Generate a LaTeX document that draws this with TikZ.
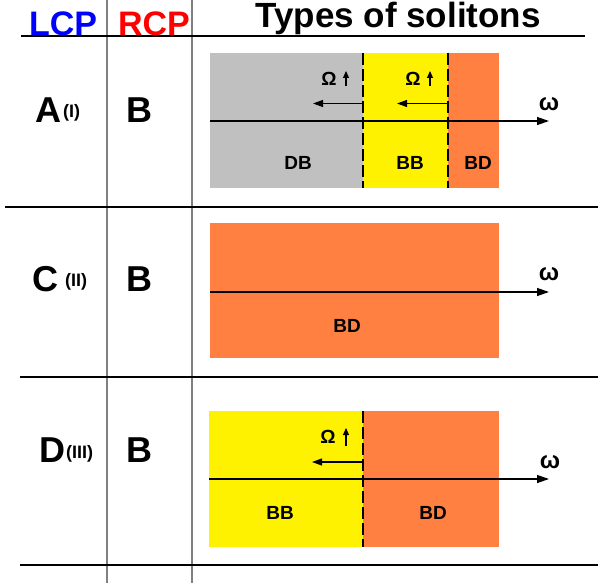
\documentclass[tikz,border=0pt]{standalone}
\usepackage{fontspec}
\setmainfont{Liberation Sans}
\usetikzlibrary{arrows.meta}
\definecolor{sgray}{RGB}{192,192,192}
\definecolor{syel}{RGB}{255,242,0}
\definecolor{sor}{RGB}{255,128,64}
\definecolor{lcpblue}{RGB}{0,0,255}
\definecolor{rcpred}{RGB}{255,0,0}
\begin{document}
\begin{tikzpicture}[x=1pt,y=-1pt,
  hdr/.style={font=\fontsize{34}{34}\selectfont\bfseries, anchor=base, inner sep=0pt},
  titletxt/.style={font=\fontsize{35}{35}\selectfont\bfseries, anchor=base, inner sep=0pt},
  rowlbl/.style={font=\fontsize{36}{36}\selectfont\bfseries, anchor=base, inner sep=0pt},
  romanlbl/.style={font=\fontsize{18}{18}\selectfont\bfseries, anchor=base west, inner sep=0pt},
  regionlbl/.style={font=\fontsize{19}{19}\selectfont\bfseries, anchor=base, inner sep=0pt},
  omegalbl/.style={font=\fontsize{19}{19}\selectfont\bfseries, anchor=base, inner sep=0pt},
  freqlbl/.style={font=\fontsize{24}{24}\selectfont\bfseries, anchor=center, inner sep=0pt},
  seplin/.style={line width=2.4pt},
  colline/.style={draw=gray, line width=1.2pt},
  axisarrow/.style={line width=1.3pt, -{Triangle[length=12pt,width=8pt]}},
  leftarrow/.style={line width=1.1pt, -{Triangle[length=10pt,width=7pt]}},
  uparrow/.style={line width=1.1pt, -{Triangle[length=7pt,width=6pt]}},
  boundary/.style={line width=2pt, dash pattern=on 12pt off 4pt}
]
\useasboundingbox (0,0) rectangle (601,583);

% table lines
\draw[colline] (107,0) -- (107,583);
\draw[colline] (192,0) -- (192,583);
\draw[seplin] (21,36) -- (585,36);
\draw[seplin] (5,207) -- (598,207);
\draw[seplin] (20,377) -- (598,377);
\draw[seplin] (20,565) -- (598,565);

% headers
\node[hdr, text=lcpblue] (lcp) at (63,36) {LCP};
\node[hdr, text=rcpred] (rcp) at (154,36) {RCP};
\node[titletxt] (title) at (398,27.5) {Types of solitons};

% row labels
\node[rowlbl] (A) at (48,122) {A};
\node[romanlbl] (Ai) at (63,117) {(I)};
\node[rowlbl] (B1) at (139.5,122) {B};
\node[rowlbl] (C) at (45,291) {C};
\node[romanlbl] (Cii) at (65,286) {(II)};
\node[rowlbl] (B2) at (139.5,291) {B};
\node[rowlbl] (D) at (52,462) {D};
\node[romanlbl] (Diii) at (66,458) {(III)};
\node[rowlbl] (B3) at (139.5,462) {B};

% ---------- panel 1 ----------
\fill[sgray] (210,53) rectangle (362.5,188);
\fill[syel] (362.5,53) rectangle (448,188);
\fill[sor] (448,53) rectangle (499,188);
\draw[boundary] (362.5,53) -- (362.5,188);
\draw[boundary] (448,53) -- (448,188);
\coordinate (ax1s) at (210,121);
\coordinate (ax1e) at (549,121);
\draw[axisarrow] (ax1s) -- (ax1e);
\node[freqlbl] (w1) at (549,104) {ω};
\coordinate (l1s) at (362.5,103.5);
\coordinate (l1e) at (313,103.5);
\draw[leftarrow] (l1s) -- (l1e);
\coordinate (l2s) at (448,103.5);
\coordinate (l2e) at (397,103.5);
\draw[leftarrow] (l2s) -- (l2e);
\node[omegalbl] (O1) at (329,85) {Ω};
\node[omegalbl] (O2) at (413,85) {Ω};
\coordinate (u1s) at (346,86);
\coordinate (u1e) at (346,71);
\draw[uparrow] (u1s) -- (u1e);
\coordinate (u2s) at (430,86);
\coordinate (u2e) at (430,71);
\draw[uparrow] (u2s) -- (u2e);
\node[regionlbl] (DB1) at (298,169.5) {DB};
\node[regionlbl] (BB1) at (410,169.5) {BB};
\node[regionlbl] (BD1) at (478,169.5) {BD};

% ---------- panel 2 ----------
\fill[sor] (210,223) rectangle (499,358);
\coordinate (ax2s) at (210,292);
\coordinate (ax2e) at (549,292);
\draw[axisarrow] (ax2s) -- (ax2e);
\node[freqlbl] (w2) at (549,274) {ω};
\node[regionlbl] (BD2) at (347,332) {BD};

% ---------- panel 3 ----------
\fill[syel] (209,411) rectangle (363,547);
\fill[sor] (363,411) rectangle (499,547);
\draw[boundary] (363,411) -- (363,547);
\coordinate (ax3s) at (209,479);
\coordinate (ax3e) at (549,479);
\draw[axisarrow] (ax3s) -- (ax3e);
\node[freqlbl] (w3) at (550,462) {ω};
\coordinate (l3s) at (363,462);
\coordinate (l3e) at (312,462);
\draw[leftarrow] (l3s) -- (l3e);
\node[omegalbl] (O3) at (328,443) {Ω};
\coordinate (u3s) at (346,446);
\coordinate (u3e) at (346,428);
\draw[uparrow] (u3s) -- (u3e);
\node[regionlbl] (BB3) at (280,519.5) {BB};
\node[regionlbl] (BD3) at (433,519.5) {BD};
\end{tikzpicture}
\end{document}
